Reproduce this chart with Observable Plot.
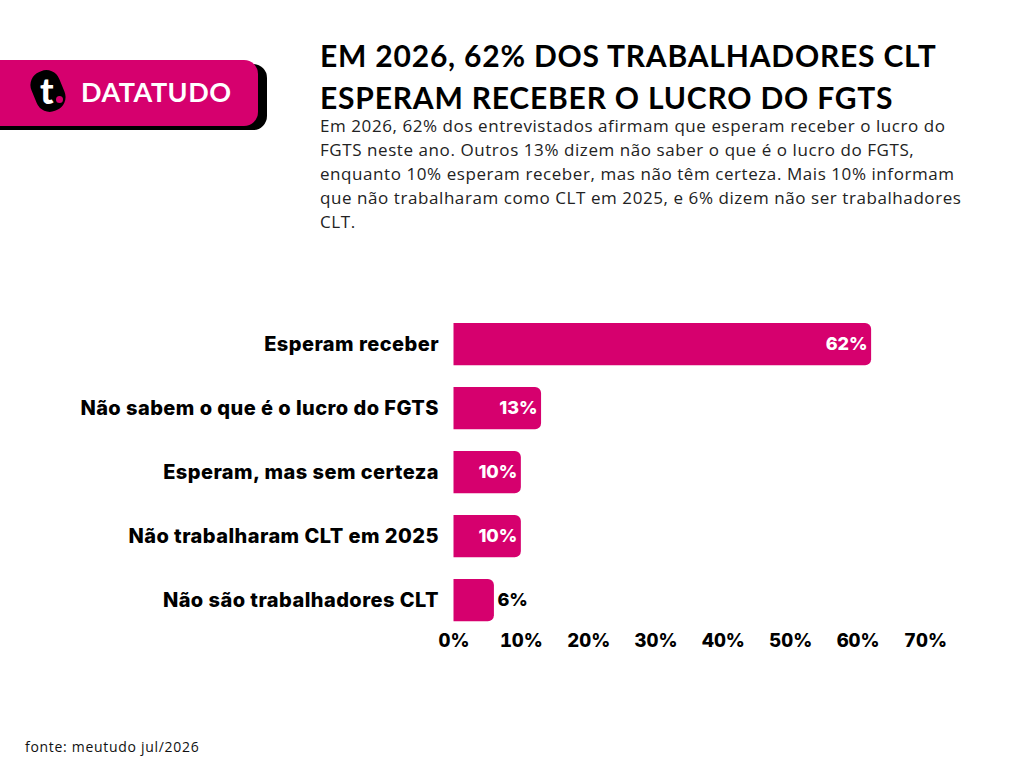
<!DOCTYPE html>
<html lang="pt-BR">
<head>
<meta charset="utf-8">
<script src="https://cdn.jsdelivr.net/npm/d3@7"></script>
<script src="https://cdn.jsdelivr.net/npm/@observablehq/plot@0.6"></script>
<style>
html,body{margin:0;padding:0;background:#fff;width:1024px;height:768px;overflow:hidden;position:relative;font-family:"Open Sans",sans-serif;color:#000}
.abs{position:absolute;white-space:nowrap}
#title{left:320px;top:34px;font:700 30px/42px Lato,sans-serif;letter-spacing:.8px}
#sub{left:320px;top:114px;font:400 17px/24px "Open Sans",sans-serif;letter-spacing:.57px;color:#222}
#src{left:25px;top:738px;font:400 14px/18px "Open Sans",sans-serif;letter-spacing:.7px;color:#111}
#shadow{left:-10px;top:64px;width:277px;height:66px;background:#000;border-radius:0 14px 14px 0}
#badge{left:-10px;top:60px;width:268px;height:66px;background:#d6006e;border-radius:0 14px 14px 0}
#blob{left:33px;top:70px;width:30px;height:42px;background:#000;border-radius:14px;transform:rotate(-22deg)}
#t{left:40px;top:67px;font:900 36px/46px Lato,sans-serif;color:#fff}
#dot{left:56px;top:96px;width:7px;height:7px;border-radius:50%;background:#d6006e}
#brand{left:81px;top:72px;font:700 27px/40px Lato,sans-serif;color:#fff;letter-spacing:.5px}
#chart{position:absolute;left:0;top:300px}
g[aria-label="y-axis tick label"]{letter-spacing:.45px}
</style>
</head>
<body>
<div class="abs" id="shadow"></div>
<div class="abs" id="badge"></div>
<div class="abs" id="blob"></div>
<div class="abs" id="t">t</div>
<div class="abs" id="dot"></div>
<div class="abs" id="brand">DATATUDO</div>
<div class="abs" id="title">EM 2026, 62% DOS TRABALHADORES CLT<br>ESPERAM RECEBER O LUCRO DO FGTS</div>
<div class="abs" id="sub">Em 2026, 62% dos entrevistados afirmam que esperam receber o lucro do<br>FGTS neste ano. Outros 13% dizem não saber o que é o lucro do FGTS,<br>enquanto 10% esperam receber, mas não têm certeza. Mais 10% informam<br>que não trabalharam como CLT em 2025, e 6% dizem não ser trabalhadores<br>CLT.</div>
<div id="chart"></div>
<div class="abs" id="src">fonte: meutudo jul/2026</div>
<script>
const categories = ["Esperam receber","Não sabem o que é o lucro do FGTS","Esperam, mas sem certeza","Não trabalharam CLT em 2025","Não são trabalhadores CLT"];
const values = [62,13,10,10,6];
const xTicks = [0,10,20,30,40,50,60,70];
const pink = "#d6006e";
const rows = categories.map((c,i)=>({c,v:values[i]}));
const font = "Inter, sans-serif";
const plot = Plot.plot({
  width:1024,height:360,
  marginLeft:453.5,marginRight:99,marginTop:23,marginBottom:38.8,
  style:{fontFamily:font,background:"transparent",overflow:"visible"},
  x:{domain:[0,70],axis:null},
  y:{domain:categories,paddingInner:0.34,paddingOuter:0,round:false,axis:null},
  marks:[
    Plot.barX(rows,{x:"v",y:"c",fill:pink,rx2:6}),
    Plot.axisY({domain:categories,tickSize:0,tickPadding:15,fontSize:20,fontWeight:800,fill:"#000",label:null,anchor:"left"}),
    Plot.axisX({ticks:xTicks,tickFormat:d=>d+"%",tickSize:0,tickPadding:12,fontSize:18.5,fontWeight:800,fill:"#000",label:null,anchor:"bottom"}),
    Plot.text(rows.filter(d=>d.v>6),{x:"v",y:"c",text:d=>d.v+"%",textAnchor:"end",dx:-4,fill:"#fff",fontSize:18,fontWeight:800}),
    Plot.text(rows.filter(d=>d.v<=6),{x:"v",y:"c",text:d=>d.v+"%",textAnchor:"start",dx:3,fill:"#000",fontSize:18,fontWeight:800})
  ]
});
document.getElementById("chart").appendChild(plot);
</script>
</body>
</html>
